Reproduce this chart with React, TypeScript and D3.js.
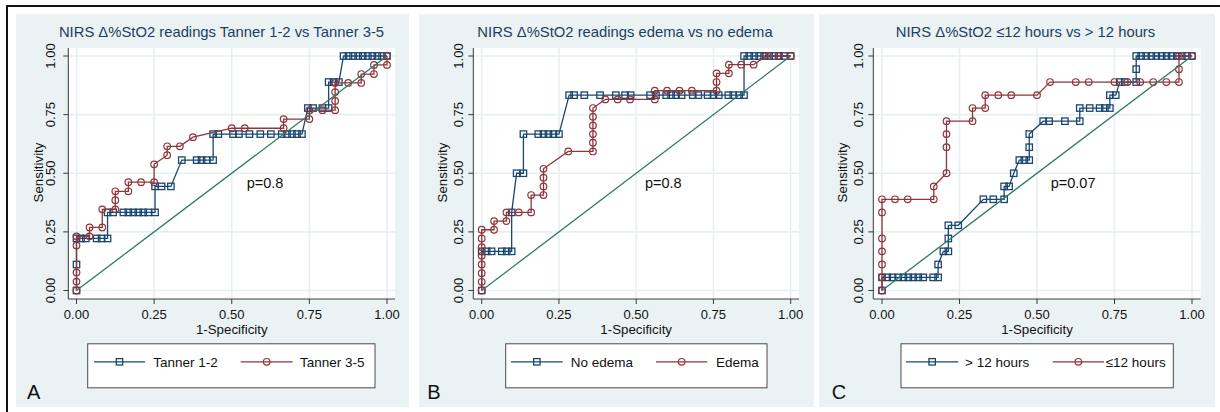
import React from "react";
import * as d3 from "d3";

type Pt = [number, number];

// ---------- data (1-specificity, sensitivity) ----------
const tanner12: Pt[] = [
  [0, 0], [0, 0.111], [0, 0.222], [0.015, 0.222], [0.03, 0.222], [0.065, 0.222], [0.081, 0.222], [0.1, 0.222],
  [0.1, 0.333], [0.118, 0.333], [0.151, 0.333], [0.167, 0.333], [0.183, 0.333], [0.199, 0.333], [0.215, 0.333],
  [0.231, 0.333], [0.253, 0.333], [0.253, 0.444], [0.274, 0.444], [0.304, 0.444], [0.339, 0.556], [0.387, 0.556],
  [0.403, 0.556], [0.419, 0.556], [0.44, 0.556], [0.44, 0.667], [0.457, 0.667], [0.504, 0.667], [0.523, 0.667],
  [0.557, 0.667], [0.592, 0.667], [0.626, 0.667], [0.661, 0.667], [0.678, 0.667], [0.694, 0.667], [0.71, 0.667],
  [0.726, 0.667], [0.745, 0.778], [0.762, 0.778], [0.792, 0.778], [0.812, 0.778], [0.812, 0.889], [0.828, 0.889],
  [0.845, 0.889], [0.86, 1], [0.876, 1], [0.891, 1], [0.907, 1], [0.922, 1], [0.938, 1], [0.953, 1], [0.969, 1],
  [0.984, 1], [1, 1],
];
const tanner35: Pt[] = [
  [0, 0], [0, 0.038], [0, 0.077], [0, 0.192], [0, 0.231], [0.042, 0.231], [0.042, 0.269], [0.083, 0.269],
  [0.083, 0.346], [0.125, 0.346], [0.125, 0.385], [0.125, 0.423], [0.167, 0.423], [0.167, 0.462], [0.208, 0.462],
  [0.25, 0.462], [0.25, 0.538], [0.292, 0.577], [0.292, 0.615], [0.333, 0.615], [0.375, 0.654], [0.5, 0.692],
  [0.542, 0.692], [0.667, 0.692], [0.667, 0.731], [0.75, 0.731], [0.75, 0.769], [0.792, 0.769], [0.833, 0.769],
  [0.833, 0.808], [0.833, 0.846], [0.833, 0.885], [0.875, 0.885], [0.917, 0.885], [0.917, 0.923], [0.958, 0.923],
  [0.958, 0.962], [1, 0.962], [1, 1],
];
const noEdema: Pt[] = [
  [0, 0], [0, 0.167], [0.016, 0.167], [0.032, 0.167], [0.065, 0.167], [0.081, 0.167], [0.097, 0.167],
  [0.097, 0.333], [0.113, 0.5], [0.135, 0.5], [0.135, 0.667], [0.183, 0.667], [0.2, 0.667], [0.216, 0.667],
  [0.232, 0.667], [0.25, 0.667], [0.283, 0.833], [0.299, 0.833], [0.332, 0.833], [0.383, 0.833], [0.434, 0.833],
  [0.464, 0.833], [0.482, 0.833], [0.545, 0.833], [0.564, 0.833], [0.597, 0.833], [0.613, 0.833], [0.629, 0.833],
  [0.647, 0.833], [0.683, 0.833], [0.701, 0.833], [0.731, 0.833], [0.75, 0.833], [0.767, 0.833], [0.798, 0.833],
  [0.814, 0.833], [0.833, 0.833], [0.849, 0.833], [0.849, 1], [0.866, 1], [0.882, 1], [0.898, 1], [0.914, 1],
  [0.93, 1], [0.946, 1], [0.962, 1], [0.978, 1], [1, 1],
];
const edema: Pt[] = [
  [0, 0], [0, 0.037], [0, 0.074], [0, 0.111], [0, 0.148], [0, 0.185], [0, 0.222], [0, 0.259], [0.04, 0.259],
  [0.04, 0.296], [0.08, 0.296], [0.08, 0.333], [0.12, 0.333], [0.16, 0.333], [0.16, 0.407], [0.2, 0.407],
  [0.2, 0.444], [0.2, 0.481], [0.2, 0.519], [0.28, 0.593], [0.36, 0.593], [0.36, 0.63], [0.36, 0.667],
  [0.36, 0.704], [0.36, 0.741], [0.36, 0.778], [0.4, 0.815], [0.44, 0.815], [0.48, 0.815], [0.56, 0.815],
  [0.56, 0.852], [0.6, 0.852], [0.64, 0.852], [0.68, 0.852], [0.76, 0.852], [0.76, 0.889], [0.76, 0.926],
  [0.8, 0.926], [0.8, 0.963], [0.84, 0.963], [0.88, 0.963], [0.92, 1], [0.96, 1], [1, 1],
];
const over12h: Pt[] = [
  [0, 0], [0, 0.056], [0.017, 0.056], [0.034, 0.056], [0.052, 0.056], [0.069, 0.056], [0.085, 0.056],
  [0.101, 0.056], [0.117, 0.056], [0.133, 0.056], [0.165, 0.056], [0.181, 0.056], [0.181, 0.111], [0.198, 0.167],
  [0.214, 0.167], [0.214, 0.222], [0.214, 0.278], [0.246, 0.278], [0.327, 0.389], [0.359, 0.389], [0.394, 0.389],
  [0.394, 0.444], [0.41, 0.444], [0.425, 0.5], [0.443, 0.556], [0.459, 0.556], [0.475, 0.556], [0.475, 0.611],
  [0.475, 0.667], [0.52, 0.722], [0.539, 0.722], [0.59, 0.722], [0.638, 0.722], [0.638, 0.778], [0.67, 0.778],
  [0.702, 0.778], [0.719, 0.778], [0.735, 0.778], [0.735, 0.833], [0.754, 0.833], [0.767, 0.889], [0.783, 0.889],
  [0.82, 0.889], [0.82, 0.944], [0.82, 1], [0.836, 1], [0.852, 1], [0.869, 1], [0.885, 1], [0.902, 1],
  [0.918, 1], [0.934, 1], [0.951, 1], [0.967, 1], [0.984, 1], [1, 1],
];
const le12h: Pt[] = [
  [0, 0], [0, 0.056], [0, 0.111], [0, 0.167], [0, 0.222], [0, 0.333], [0, 0.389], [0.042, 0.389],
  [0.083, 0.389], [0.167, 0.389], [0.167, 0.444], [0.208, 0.5], [0.208, 0.611], [0.208, 0.667], [0.208, 0.722],
  [0.292, 0.722], [0.292, 0.778], [0.333, 0.778], [0.333, 0.833], [0.375, 0.833], [0.417, 0.833], [0.5, 0.833],
  [0.542, 0.889], [0.625, 0.889], [0.667, 0.889], [0.75, 0.889], [0.792, 0.889], [0.833, 0.889], [0.875, 0.889],
  [0.917, 0.889], [0.958, 0.889], [0.958, 0.944], [0.958, 1], [1, 1],
];

const tickValues = [0, 0.25, 0.5, 0.75, 1];
const titles = [
  "NIRS \u0394%StO2 readings Tanner 1-2 vs Tanner 3-5",
  "NIRS \u0394%StO2 readings edema vs no edema",
  "NIRS \u0394%StO2 \u226412 hours vs > 12 hours",
];
const legendNames = [
  ["Tanner 1-2", "Tanner 3-5"],
  ["No edema", "Edema"],
  ["> 12 hours", "\u226412 hours"],
];
const pLabels = ["p=0.8", "p=0.8", "p=0.07"];
const panelLetters = ["A", "B", "C"];
const seriesSets: [Pt[], Pt[]][] = [
  [tanner12, tanner35],
  [noEdema, edema],
  [over12h, le12h],
];

// ---------- styles / layout ----------
const NAVY = "#1a476f";
const MAROON = "#90353b";
const GREEN = "#2b7a66";
const BG = "#eaf2f3";
const GRID = "#e6eff1";
const TITLE = "#1e3d62";
const FONT = "'Liberation Sans', Arial, Helvetica, sans-serif";

const layouts = [
  { bg0: 16, bg1: 409, axisX: 68.3, x0: 76.5, x1: 387, right: 395, titleX: 221.5, tickLblX: 55, sensX: 43,
    box: [87.7, 375], l1: [94, 145, 153.3], l2: [240.7, 292.7, 300], letterX: 27, pX: 246.7 },
  { bg0: 419, bg1: 814, axisX: 473.3, x0: 481.7, x1: 790.7, right: 799, titleX: 625, tickLblX: 462.7, sensX: 446.5,
    box: [505.7, 767], l1: [511, 562.7, 570.7], l2: [656, 707.3, 716], letterX: 427.3, pX: 645 },
  { bg0: 819, bg1: 1215, axisX: 873.3, x0: 882, x1: 1192, right: 1200.7, titleX: 1025.5, tickLblX: 862.7, sensX: 846.5,
    box: [901, 1173.3], l1: [906, 958.3, 965], l2: [1052.7, 1104, 1105.7], letterX: 831.7, pX: 1050.7 },
];

const PLOT_TOP = 48;
const PLOT_BOTTOM = 299;

function Square({ cx, cy, color }: { cx: number; cy: number; color: string }) {
  const s = 6.4;
  return <rect x={cx - s / 2} y={cy - s / 2} width={s} height={s} fill="none" stroke={color} strokeWidth={1.3} />;
}
function Circle({ cx, cy, color }: { cx: number; cy: number; color: string }) {
  return <circle cx={cx} cy={cy} r={3.3} fill="none" stroke={color} strokeWidth={1.2} />;
}

function Panel({ i }: { i: number }) {
  const L = layouts[i];
  const x = d3.scaleLinear().domain([0, 1]).range([L.x0, L.x1]);
  const y = d3.scaleLinear().domain([0, 1]).range([290.5, 56]);
  const line = d3.line<Pt>().x((d) => x(d[0])).y((d) => y(d[1]));
  const [s1, s2] = seriesSets[i];
  const plotMidX = (L.x0 + L.x1) / 2;
  const plotMidY = (PLOT_TOP + PLOT_BOTTOM) / 2 - 1;
  const legY = 361.8;
  return (
    <g>
      <rect x={L.bg0} y={14} width={L.bg1 - L.bg0} height={393} fill={BG} />
      <rect x={L.axisX} y={PLOT_TOP} width={L.right - L.axisX} height={PLOT_BOTTOM - PLOT_TOP} fill="#ffffff" />
      {tickValues.map((t) => (
        <g key={"g" + t}>
          <line x1={x(t)} x2={x(t)} y1={PLOT_TOP} y2={PLOT_BOTTOM} stroke={GRID} strokeWidth={1.6} />
          <line x1={L.axisX} x2={L.right} y1={y(t)} y2={y(t)} stroke={GRID} strokeWidth={1.6} />
        </g>
      ))}
      <line x1={L.axisX} x2={L.axisX} y1={PLOT_TOP} y2={PLOT_BOTTOM} stroke="#3a3a3a" strokeWidth={1} />
      <line x1={L.axisX} x2={L.right} y1={PLOT_BOTTOM} y2={PLOT_BOTTOM} stroke="#3a3a3a" strokeWidth={1} />
      {tickValues.map((t, k) => (
        <g key={"t" + t}>
          <line x1={L.axisX - 5} x2={L.axisX} y1={y(t)} y2={y(t)} stroke="#3a3a3a" strokeWidth={1} />
          <line x1={x(t)} x2={x(t)} y1={PLOT_BOTTOM} y2={PLOT_BOTTOM + 5} stroke="#3a3a3a" strokeWidth={1} />
          <text x={x(t)} y={318.8} textAnchor="middle" fontSize={13} fontFamily={FONT} fill="#111">
            {d3.format(".2f")(t)}
          </text>
          <text transform={`translate(${L.tickLblX},${y(t)}) rotate(-90)`} textAnchor="middle" fontSize={13}
            fontFamily={FONT} fill="#111">
            {d3.format(".2f")(tickValues[k])}
          </text>
        </g>
      ))}
      <text x={plotMidX} y={334} textAnchor="middle" fontSize={13.3} fontFamily={FONT} fill="#111">
        1-Specificity
      </text>
      <text transform={`translate(${L.sensX},${plotMidY}) rotate(-90)`} textAnchor="middle" fontSize={13.3}
        fontFamily={FONT} fill="#111">
        Sensitivity
      </text>
      <text x={L.titleX} y={37} textAnchor="middle" fontSize={14.8} fontFamily={FONT} fill={TITLE}>
        {titles[i]}
      </text>

      <path d={line(s1) || ""} fill="none" stroke={NAVY} strokeWidth={1.3} />
      {s1.map((d, k) => (
        <Square key={"s" + k} cx={x(d[0])} cy={y(d[1])} color={NAVY} />
      ))}
      <path d={line(s2) || ""} fill="none" stroke={MAROON} strokeWidth={1.3} />
      {s2.map((d, k) => (
        <Circle key={"c" + k} cx={x(d[0])} cy={y(d[1])} color={MAROON} />
      ))}
      <line x1={x(0)} y1={y(0)} x2={x(1)} y2={y(1)} stroke={GREEN} strokeWidth={1.3} />

      <text x={L.pX} y={188} fontSize={14.5} fontFamily={FONT} fill="#111">
        {pLabels[i]}
      </text>

      <rect x={L.box[0]} y={343.8} width={L.box[1] - L.box[0]} height={44} fill="#ffffff" stroke="#4a4a4a"
        strokeWidth={1} />
      <line x1={L.l1[0]} x2={L.l1[1]} y1={legY} y2={legY} stroke={NAVY} strokeWidth={1.3} />
      <Square cx={(L.l1[0] + L.l1[1]) / 2} cy={legY} color={NAVY} />
      <text x={L.l1[2]} y={legY + 4.8} fontSize={13.5} fontFamily={FONT} fill="#111">
        {legendNames[i][0]}
      </text>
      <line x1={L.l2[0]} x2={L.l2[1]} y1={legY} y2={legY} stroke={MAROON} strokeWidth={1.3} />
      <Circle cx={(L.l2[0] + L.l2[1]) / 2} cy={legY} color={MAROON} />
      <text x={L.l2[2]} y={legY + 4.8} fontSize={13.5} fontFamily={FONT} fill="#111">
        {legendNames[i][1]}
      </text>

      <text x={L.letterX} y={399} fontSize={20} fontFamily={FONT} fill="#111">
        {panelLetters[i]}
      </text>
    </g>
  );
}

export default function App() {
  return (
    <svg width={1220} height={412} style={{ position: "absolute", left: 0, top: 0, background: "#fff" }}>
      <rect x={0} y={0} width={1220} height={412} fill="#ffffff" />
      {[0, 1, 2].map((i) => (
        <Panel key={i} i={i} />
      ))}
      <rect x={7} y={5} width={1213} height={2} fill="#111" />
      <rect x={6} y={5} width={2} height={407} fill="#111" />
    </svg>
  );
}
